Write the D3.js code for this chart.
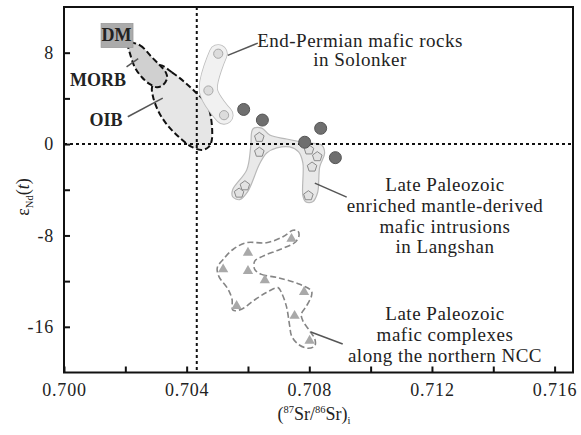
<!DOCTYPE html>
<html>
<head>
<meta charset="utf-8">
<script src="https://cdn.jsdelivr.net/npm/d3@7"></script>
<style>
  html, body { margin: 0; padding: 0; background: #fff; }
  svg { display: block; }
  text { font-family: "Times New Roman", "Liberation Serif", Times, "DejaVu Serif", serif; fill: #222; }
</style>
</head>
<body>
<svg id="chart" width="581" height="435"></svg>
<script>
// Axis ranges and ticks
const xDomain = [0.700, 0.7166];
const yDomain = [-20, 12];
const xTicks = [0.700, 0.702, 0.704, 0.706, 0.708, 0.710, 0.712, 0.714, 0.716];
const xTickLabels = ["0.700", "0.704", "0.708", "0.712", "0.716"];
const yTicks = [-16, -12, -8, -4, 0, 4, 8];
const yTickLabels = ["-16", "-8", "0", "8"];

// Reference lines: bulk earth
const bulkSr = 0.70433;
const bulkNd = 0;

// Depleted mantle box [Sr min, Sr max], [eNd min, eNd max]
const dmSr = [0.70121, 0.70225];
const dmNd = [8.46, 10.55];

// MORB field outline (Sr, eNd)
const morbSr = [0.70208, 0.70248, 0.70287, 0.70313, 0.70332, 0.70336, 0.70322, 0.70303, 0.70280, 0.70254, 0.70231, 0.70215, 0.70208];
const morbNd = [8.90, 8.64, 7.59, 6.89, 6.28, 5.76, 5.15, 4.98, 5.24, 5.85, 6.72, 7.94, 8.64];

// OIB field outline
const oibSr = [0.70313, 0.70352, 0.70394, 0.70433, 0.70466, 0.70479, 0.70482, 0.70472, 0.70450, 0.70417, 0.70371, 0.70332, 0.70306, 0.70290, 0.70287, 0.70300];
const oibNd = [6.89, 6.28, 5.41, 4.45, 3.49, 2.36, 0.36, -0.25, -0.51, -0.25, 0.71, 1.84, 2.97, 4.19, 4.98, 5.59];

// End-Permian mafic rocks in Solonker
const solonkerSr = [0.70503, 0.70471, 0.70522];
const solonkerNd = [7.91, 4.69, 2.53];

// Samples of this study (filled circles)
const sampleSr = [0.70586, 0.70647, 0.70837, 0.70785, 0.70885];
const sampleNd = [3.03, 2.10, 1.38, 0.16, -1.19];

// Late Paleozoic enriched mantle-derived mafic intrusions in Langshan
const langshanSr = [0.70637, 0.70637, 0.70590, 0.70571, 0.70799, 0.70826, 0.70809, 0.70797];
const langshanNd = [0.59, -0.71, -3.65, -4.29, -0.51, -1.10, -2.01, -4.52];
const langshanFieldSr = [0.70616, 0.70645, 0.70671, 0.70726, 0.70792, 0.70840, 0.70850, 0.70834, 0.70827, 0.70811, 0.70788, 0.70779, 0.70779, 0.70765, 0.70736, 0.70694, 0.70661, 0.70638, 0.70599, 0.70573, 0.70550, 0.70550, 0.70596, 0.70609];
const langshanFieldNd = [1.32, 1.40, 0.79, 0.44, 0.10, -0.08, -0.78, -2.00, -4.26, -5.05, -5.05, -4.52, -1.65, -0.69, -0.25, -0.34, -0.78, -1.73, -4.17, -4.87, -4.61, -4.00, -2.26, -0.25];

// Late Paleozoic mafic complexes along the northern NCC
const nccSr = [0.70742, 0.70600, 0.70519, 0.70600, 0.70655, 0.70783, 0.70563, 0.70752, 0.70801];
const nccNd = [-8.30, -9.52, -10.97, -11.12, -11.93, -12.95, -14.17, -15.04, -17.22];
const nccFieldSr = [0.70622, 0.70644, 0.70698, 0.70769, 0.70807, 0.70807, 0.70791, 0.70774, 0.70779, 0.70801, 0.70818, 0.70818, 0.70796, 0.70763, 0.70742, 0.70736, 0.70725, 0.70709, 0.70698, 0.70660, 0.70617, 0.70579, 0.70551, 0.70548, 0.70535, 0.70505, 0.70500, 0.70519, 0.70551, 0.70595, 0.70660, 0.70714, 0.70747, 0.70763, 0.70766, 0.70752, 0.70704, 0.70649, 0.70622];
const nccFieldNd = [-10.97, -11.41, -11.70, -12.28, -12.86, -13.30, -14.17, -14.89, -15.48, -16.35, -17.07, -17.66, -17.88, -17.51, -16.78, -15.91, -14.17, -13.00, -12.57, -13.00, -13.73, -14.46, -14.54, -13.59, -12.71, -11.58, -10.82, -10.10, -9.23, -8.64, -8.64, -8.12, -7.55, -7.63, -8.07, -8.64, -9.23, -9.81, -10.25];

// Leader lines [Sr0, eNd0, Sr1, eNd1]
const leaderMorb = [0.70204, 6.75, 0.70242, 7.48];
const leaderOib = [0.70208, 2.39, 0.70322, 4.02];
const leaderSolonker = [0.70534, 7.76, 0.70632, 8.84];
const leaderLangshan = [0.70818, -3.42, 0.70922, -4.65];
const leaderNcc = [0.70805, -16.46, 0.70909, -17.51];

const svg = d3.select("#chart");
const L = 64, R = 573, T = 7, B = 372.5;
const x = d3.scaleLinear().domain(xDomain).range([L, R]);
const y = d3.scaleLinear().domain(yDomain).range([B, T]);
const FONT = '"Times New Roman", "Liberation Serif", Times, "DejaVu Serif", serif';

const zip = (a, b) => a.map((v, i) => [v, b[i]]);
const line = d3.line().x(d => x(d[0])).y(d => y(d[1]));
const closedCurve = d3.line().x(d => x(d[0])).y(d => y(d[1])).curve(d3.curveCatmullRomClosed.alpha(0.5));
const openCurve = d3.line().x(d => x(d[0])).y(d => y(d[1])).curve(d3.curveCatmullRom.alpha(0.5));

// Pentagon symbol
const symbolPentagon = {
  draw(ctx, size) {
    const r = Math.sqrt(size / 2.378);
    for (let i = 0; i < 5; i++) {
      const a = -Math.PI / 2 + i * 2 * Math.PI / 5;
      const px = r * Math.cos(a), py = r * Math.sin(a);
      if (i === 0) ctx.moveTo(px, py); else ctx.lineTo(px, py);
    }
    ctx.closePath();
  }
};

// OIB field
svg.append("path")
  .attr("d", closedCurve(zip(oibSr, oibNd)))
  .attr("fill", "#e6e6e6").attr("stroke", "#111")
  .attr("stroke-width", 2).attr("stroke-dasharray", "6,3");

// MORB field
svg.append("path")
  .attr("d", closedCurve(zip(morbSr, morbNd)))
  .attr("fill", "#d0d0d0").attr("stroke", "#111")
  .attr("stroke-width", 2).attr("stroke-dasharray", "6,3");

// DM box
svg.append("rect")
  .attr("x", x(dmSr[0])).attr("y", y(dmNd[1]))
  .attr("width", x(dmSr[1]) - x(dmSr[0])).attr("height", y(dmNd[0]) - y(dmNd[1]))
  .attr("fill", "#ababab").attr("stroke", "#9a9a9a").attr("stroke-width", 0.8);

// Solonker band
const solPts = zip(solonkerSr, solonkerNd);
svg.append("path").attr("d", openCurve(solPts))
  .attr("fill", "none").attr("stroke", "#bdbdbd").attr("stroke-width", 19)
  .attr("stroke-linecap", "round").attr("stroke-linejoin", "round");
svg.append("path").attr("d", openCurve(solPts))
  .attr("fill", "none").attr("stroke", "#f1f1f1").attr("stroke-width", 17.4)
  .attr("stroke-linecap", "round").attr("stroke-linejoin", "round");

// Langshan field
svg.append("path")
  .attr("d", closedCurve(zip(langshanFieldSr, langshanFieldNd)))
  .attr("fill", "#e9e9e9").attr("stroke", "#b8b8b8").attr("stroke-width", 1.2);

// NCC field
svg.append("path")
  .attr("d", closedCurve(zip(nccFieldSr, nccFieldNd)))
  .attr("fill", "none").attr("stroke", "#858585")
  .attr("stroke-width", 1.6).attr("stroke-dasharray", "6,3");

// Reference dotted lines
svg.append("line")
  .attr("x1", x(bulkSr)).attr("x2", x(bulkSr)).attr("y1", T).attr("y2", B)
  .attr("stroke", "#111").attr("stroke-width", 2).attr("stroke-dasharray", "3,3");
svg.append("line")
  .attr("x1", L).attr("x2", R).attr("y1", y(bulkNd)).attr("y2", y(bulkNd))
  .attr("stroke", "#111").attr("stroke-width", 2).attr("stroke-dasharray", "3,3");

// Solonker circles
svg.selectAll("circle.sol").data(solPts).join("circle").attr("class", "sol")
  .attr("cx", d => x(d[0])).attr("cy", d => y(d[1])).attr("r", 4.6)
  .attr("fill", "#dcdcdc").attr("stroke", "#a8a8a8").attr("stroke-width", 1);

// Langshan pentagons
svg.selectAll("path.pent").data(zip(langshanSr, langshanNd)).join("path").attr("class", "pent")
  .attr("transform", d => `translate(${x(d[0])},${y(d[1])})`)
  .attr("d", d3.symbol(symbolPentagon, 60)())
  .attr("fill", "#e2e2e2").attr("stroke", "#8a8a8a").attr("stroke-width", 1);

// Sample circles
svg.selectAll("circle.smp").data(zip(sampleSr, sampleNd)).join("circle").attr("class", "smp")
  .attr("cx", d => x(d[0])).attr("cy", d => y(d[1])).attr("r", 6)
  .attr("fill", "#6f6f6f").attr("stroke", "#555").attr("stroke-width", 1);

// NCC triangles
svg.selectAll("path.tri").data(zip(nccSr, nccNd)).join("path").attr("class", "tri")
  .attr("transform", d => `translate(${x(d[0])},${y(d[1])})`)
  .attr("d", d3.symbol(d3.symbolTriangle, 46)())
  .attr("fill", "#a9a9a9");

// Leader lines
[leaderMorb, leaderOib, leaderSolonker, leaderLangshan, leaderNcc].forEach(l => {
  svg.append("path").attr("d", line([[l[0], l[1]], [l[2], l[3]]]))
    .attr("stroke", "#555").attr("stroke-width", 1.5).attr("fill", "none");
});

// Axes
const xAxis = d3.axisBottom(x).tickValues(xTicks).tickSize(-6).tickSizeOuter(0).tickPadding(11)
  .tickFormat(d => { const s = d3.format(".3f")(d); return xTickLabels.includes(s) ? s : ""; });
const gx = svg.append("g").attr("transform", `translate(0,${B})`).call(xAxis);
const yAxis = d3.axisLeft(y).tickValues(yTicks).tickSize(-6).tickSizeOuter(0).tickPadding(10)
  .tickFormat(d => yTickLabels.includes(String(d)) ? String(d) : "");
const gy = svg.append("g").attr("transform", `translate(${L},0)`).call(yAxis);
[gx, gy].forEach(g => {
  g.attr("font-family", FONT);
  g.select(".domain").remove();
  g.selectAll(".tick line").attr("stroke", "#111").attr("stroke-width", 2);
  g.selectAll(".tick text").attr("font-family", FONT)
    .attr("font-size", 18).attr("fill", "#333").attr("letter-spacing", "0.8px");
});

// Frame
svg.append("rect").attr("x", L).attr("y", T).attr("width", R - L).attr("height", B - T)
  .attr("fill", "none").attr("stroke", "#111").attr("stroke-width", 2);

// Field labels
function label(txt, px, py, opts = {}) {
  return svg.append("text").attr("x", px).attr("y", py)
    .attr("font-family", FONT)
    .attr("text-anchor", opts.anchor || "middle")
    .attr("font-size", opts.size || 19)
    .attr("font-weight", opts.bold ? "bold" : "normal")
    .attr("letter-spacing", opts.ls || "0.5px")
    .text(txt);
}
label("DM", 116.5, 41, { bold: true, size: 18, ls: "0px" });
label("MORB", 98, 86, { bold: true, size: 18, ls: "0px" });
label("OIB", 106, 126, { bold: true, size: 18, ls: "0px" });

label("End-Permian mafic rocks", 360, 47);
label("in Solonker", 360, 66);

["Late Paleozoic", "enriched mantle-derived", "mafic intrusions", "in Langshan"]
  .forEach((t, i) => label(t, 445, 191 + i * 20.8));
["Late Paleozoic", "mafic complexes", "along the northern NCC"]
  .forEach((t, i) => label(t, 445, 320 + i * 20.8));

// Axis titles
const xt = svg.append("text").attr("x", 314).attr("y", 420).attr("text-anchor", "middle")
  .attr("font-family", FONT).attr("font-size", 18);
xt.append("tspan").text("(");
xt.append("tspan").attr("font-size", 10.5).attr("dy", -7).text("87");
xt.append("tspan").attr("dy", 7).text("Sr/");
xt.append("tspan").attr("font-size", 10.5).attr("dy", -7).text("86");
xt.append("tspan").attr("dy", 7).text("Sr)");
xt.append("tspan").attr("font-size", 10.5).attr("dy", 4).text("i");

const yt = svg.append("text").attr("transform", "translate(29,197) rotate(-90)")
  .attr("font-family", FONT).attr("text-anchor", "middle").attr("font-size", 18);
yt.append("tspan").text("ε");
yt.append("tspan").attr("font-size", 10.5).attr("dy", 4).text("Nd");
yt.append("tspan").attr("dy", -4).text("(");
yt.append("tspan").attr("font-style", "italic").text("t");
yt.append("tspan").text(")");
</script>
</body>
</html>
